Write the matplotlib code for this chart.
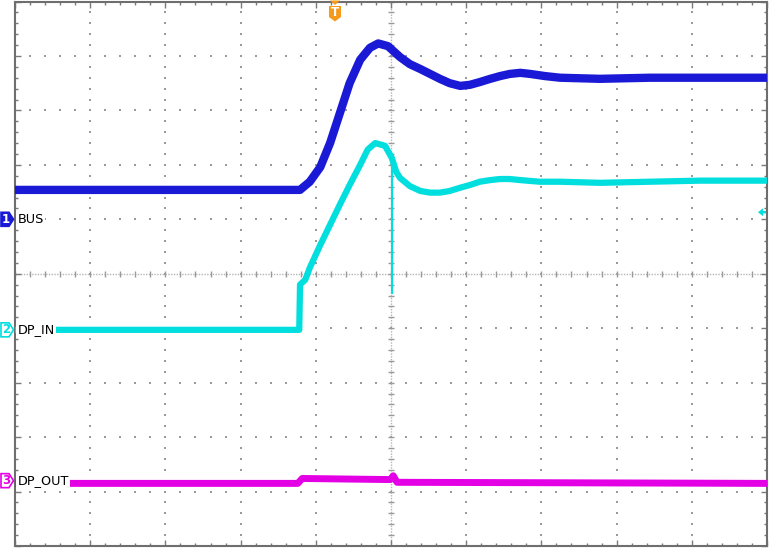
import numpy as np
import matplotlib
import matplotlib.pyplot as plt
from matplotlib.patches import Polygon
from matplotlib.transforms import IdentityTransform

matplotlib.use('Agg')

# --- DONNEES (en divisions d'ecran : x 0..10, y -5..5) ---
# Voie 1 : BUS
bus_t = [0.00, 3.79, 3.92, 4.06, 4.19, 4.32, 4.45, 4.59, 4.72, 4.83, 4.96, 5.12,
         5.25, 5.39, 5.52, 5.65, 5.78, 5.92, 6.05, 6.18, 6.32, 6.45, 6.58, 6.72,
         6.85, 7.05, 7.25, 7.78, 8.44, 9.11, 10.00]
bus_v = [1.54, 1.54, 1.69, 1.96, 2.40, 2.95, 3.50, 3.93, 4.15, 4.23, 4.18, 3.98,
         3.85, 3.76, 3.67, 3.58, 3.50, 3.45, 3.47, 3.52, 3.58, 3.63, 3.67, 3.69,
         3.67, 3.63, 3.60, 3.58, 3.60, 3.60, 3.60]

# Voie 2 : DP_IN
dpin_t = [0.00, 3.78, 3.79, 3.86, 3.92, 4.06, 4.19, 4.32, 4.45, 4.59, 4.69, 4.79,
          4.92, 5.01, 5.07, 5.12, 5.25, 5.39, 5.52, 5.65, 5.78, 5.92, 6.05, 6.18,
          6.32, 6.45, 6.58, 6.72, 6.98, 7.25, 7.78, 8.44, 9.11, 10.00]
dpin_v = [-1.03, -1.03, -0.20, -0.11, 0.11, 0.53, 0.90, 1.27, 1.63, 2.00, 2.28, 2.40,
          2.35, 2.13, 1.87, 1.76, 1.61, 1.52, 1.49, 1.49, 1.52, 1.58, 1.63, 1.69,
          1.72, 1.74, 1.74, 1.72, 1.69, 1.69, 1.67, 1.69, 1.71, 1.71]
dpin_glitch_t = [5.01, 5.01]
dpin_glitch_v = [2.20, -0.35]

# Voie 3 : DP_OUT
dpout_t = [0.00, 3.76, 3.82, 4.99, 5.03, 5.08, 10.00]
dpout_v = [-3.85, -3.85, -3.76, -3.78, -3.71, -3.83, -3.85]

channel_nums = ['1', '2', '3']
channel_labels = ['BUS', 'DP_IN', 'DP_OUT']
channel_offsets = [1.0, -1.03, -3.80]
channel_colors = ['#1a1ad6', '#00dede', '#e400e4']

trig_pos = 4.255     # position horizontale du declenchement
trig_level = 1.13    # niveau de declenchement (voie 2)

grid_col = '#9a9a9a'
orange = '#f59a1a'

# --- FIGURE ---
fig = plt.figure(figsize=(7.69, 5.49), dpi=100)
ax = fig.add_axes([15 / 769, 3 / 549, 752 / 769, 544.5 / 549])
ax.set_xlim(0, 10)
ax.set_ylim(-5, 5)

# Graticule en pointilles
x_minor = np.arange(0, 10.001, 0.2)
y_minor = np.arange(-5, 5.001, 0.2)
for gx in range(1, 10):
    if gx != 5:
        ax.scatter(np.full_like(y_minor, gx), y_minor, s=1.2, marker='s',
                   color=grid_col, linewidths=0, zorder=1)
for gy in range(-4, 5):
    if gy != 0:
        ax.scatter(x_minor, np.full_like(x_minor, gy), s=1.2, marker='s',
                   color=grid_col, linewidths=0, zorder=1)

# Axes centraux avec graduations
ax.axhline(0, color='#b5b5b5', lw=1, ls=(0, (1, 1)), zorder=1)
ax.axvline(5, color='#b5b5b5', lw=1, ls=(0, (1, 1)), zorder=1)
ax.scatter(x_minor, np.zeros_like(x_minor), marker='|', s=22, color=grid_col,
           linewidths=1, zorder=1)
ax.scatter(np.full_like(y_minor, 5), y_minor, marker='_', s=22, color=grid_col,
           linewidths=1, zorder=1)

# Cadre
for sp in ax.spines.values():
    sp.set_color('#6e6e6e')
    sp.set_linewidth(1.5)
ax.set_xticks(np.arange(0, 11, 1))
ax.set_yticks(np.arange(-5, 6, 1))
ax.set_xticks(x_minor, minor=True)
ax.set_yticks(y_minor, minor=True)
ax.tick_params(which='both', direction='in', top=True, right=True,
               labelbottom=False, labelleft=False, color='#7a7a7a', width=1)
ax.tick_params(which='major', length=4)
ax.tick_params(which='minor', length=2.5)

# Traces
ax.plot(dpout_t, dpout_v, color=channel_colors[2], lw=5, solid_joinstyle='round', zorder=3)
ax.plot(dpin_t, dpin_v, color=channel_colors[1], lw=4.5, solid_joinstyle='round', zorder=4)
ax.plot(dpin_glitch_t, dpin_glitch_v, color=channel_colors[1], lw=1.5, zorder=4)
ax.plot(bus_t, bus_v, color=channel_colors[0], lw=6, solid_joinstyle='round', zorder=5)

# Etiquettes des voies
for lab, off in zip(channel_labels, channel_offsets):
    ax.text(0.03, off, lab, fontsize=9.2, va='center', ha='left', color='black',
            bbox=dict(fc='white', ec='none', pad=1), zorder=6)

# Reperes de voies a gauche (coordonnees pixels)
for i, (num, off, col) in enumerate(zip(channel_nums, channel_offsets, channel_colors)):
    yd = ax.transData.transform((0, off))[1]
    pts = [(1, yd - 7), (9, yd - 7), (13.5, yd), (9, yd + 7), (1, yd + 7)]
    filled = (i == 0)
    fig.add_artist(Polygon(pts, closed=True, transform=IdentityTransform(),
                           fc=col if filled else 'white', ec=col, lw=1.2))
    fig.text(6 / 769, yd / 549, num, fontsize=8.5, fontweight='bold', ha='center',
             va='center', color='white' if filled else col)

# Repere de declenchement en haut
xt = ax.transData.transform((trig_pos, 0))[0]
ytop = 549
fig.add_artist(Polygon([(xt - 5, ytop - 0.5), (xt + 5, ytop - 0.5), (xt, ytop - 5)],
                       closed=True, transform=IdentityTransform(), fc=orange, ec='none'))
fig.add_artist(Polygon([(xt - 6, ytop - 6), (xt + 6, ytop - 6), (xt + 6, ytop - 17),
                        (xt, ytop - 21.5), (xt - 6, ytop - 17)],
                       closed=True, transform=IdentityTransform(), fc=orange, ec='none'))
fig.text(xt / 769, (ytop - 13) / 549, 'T', fontsize=8.5, fontweight='bold', ha='center',
         va='center', color='white')

# Niveau de declenchement a droite
yl = ax.transData.transform((10, trig_level))[1]
fig.add_artist(Polygon([(758, yl), (763, yl + 4), (763, yl + 1.2), (766, yl + 1.2),
                        (766, yl - 1.2), (763, yl - 1.2), (763, yl - 4)],
                       closed=True, transform=IdentityTransform(),
                       fc=channel_colors[1], ec='none'))

fig.savefig('out.png', dpi=100, facecolor='white')
